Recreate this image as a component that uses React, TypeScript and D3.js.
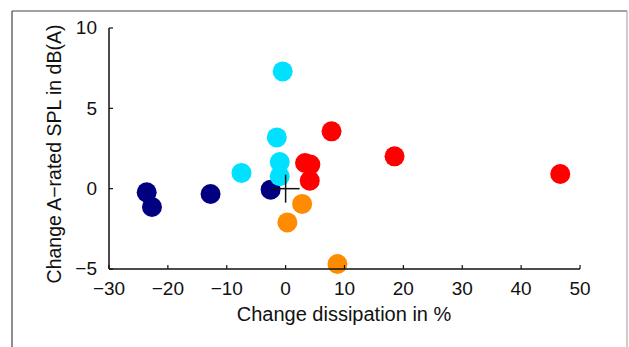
import * as d3 from 'd3';

// dissipation change (%) vs A-weighted SPL change (dB)
const navyX = [-23.6, -22.7, -12.75, -2.55];
const navyY = [-0.23, -1.14, -0.33, -0.06];
const orangeX = [2.8, 0.3, 8.8];
const orangeY = [-0.95, -2.1, -4.69];
const redX = [7.8, 18.5, 46.65, 3.3, 4.2, 4.1];
const redY = [3.57, 2.01, 0.91, 1.6, 1.5, 0.5];
const cyanX = [-0.5, -1.5, -1.0, -1.0, -7.5];
const cyanY = [7.3, 3.19, 1.66, 0.77, 0.98];

const xTicks = [-30, -20, -10, 0, 10, 20, 30, 40, 50];
const yTicks = [-5, 0, 5, 10];

const groups = [
  { xs: navyX, ys: navyY, color: '#000080' },
  { xs: orangeX, ys: orangeY, color: '#ff8c00' },
  { xs: redX, ys: redY, color: '#ff0000' },
  { xs: cyanX, ys: cyanY, color: '#00e1ff' },
];

const W = 629;
const H = 347;
const font = '"Liberation Sans", Arial, Helvetica, sans-serif';

export default function App() {
  const x = d3.scaleLinear().domain([-30, 50]).range([109, 580]);
  const y = d3.scaleLinear().domain([-5, 10]).range([269, 28]);
  const ink = '#111';

  return (
    <div style={{ position: 'fixed', left: 0, top: 0, width: W, height: H, background: '#fff' }}>
      <svg width={W} height={H} style={{ display: 'block' }}>
        {/* outer frame */}
        <line x1={12} y1={11} x2={12} y2={H} stroke="#444" strokeWidth={1.2} />
        <line x1={12} y1={11} x2={627} y2={11} stroke="#444" strokeWidth={1.2} />
        <line x1={627} y1={11} x2={627} y2={H} stroke="#aaa" strokeWidth={1.2} />

        {/* points */}
        {groups.map((g, gi) =>
          g.xs.map((v, i) => (
            <circle key={`${gi}-${i}`} cx={x(v)} cy={y(g.ys[i])} r={10} fill={g.color} />
          ))
        )}

        {/* origin cross */}
        <line x1={x(0) - 14} x2={x(0) + 14} y1={y(0)} y2={y(0)} stroke={ink} strokeWidth={1.5} />
        <line x1={x(0)} x2={x(0)} y1={y(0) - 14} y2={y(0) + 14} stroke={ink} strokeWidth={1.5} />

        {/* axes */}
        <line x1={x(-30)} x2={x(-30)} y1={y(10)} y2={y(-5)} stroke={ink} strokeWidth={1.5} />
        <line x1={x(-30)} x2={x(50)} y1={y(-5)} y2={y(-5)} stroke={ink} strokeWidth={1.5} />
        {xTicks.map((t) => (
          <g key={`xt${t}`}>
            <line x1={x(t)} x2={x(t)} y1={y(-5)} y2={y(-5) - 4} stroke={ink} strokeWidth={1.2} />
            <text x={x(t)} y={295} textAnchor="middle" fontFamily={font} fontSize={19} fill={ink}>
              {t < 0 ? `\u2212${-t}` : t}
            </text>
          </g>
        ))}
        {yTicks.map((t) => (
          <g key={`yt${t}`}>
            <line x1={x(-30)} x2={x(-30) + 4} y1={y(t)} y2={y(t)} stroke={ink} strokeWidth={1.2} />
            <text x={97} y={y(t)} dy="0.33em" textAnchor="end" fontFamily={font} fontSize={19} fill={ink}>
              {t < 0 ? `\u2212${-t}` : t}
            </text>
          </g>
        ))}

        <text x={344} y={321} textAnchor="middle" fontFamily={font} fontSize={20} fill={ink}>
          Change dissipation in %
        </text>
        <text
          transform={`translate(61,154) rotate(-90)`}
          textAnchor="middle"
          fontFamily={font}
          fontSize={19.5}
          fill={ink}
        >
          Change A{'\u2212'}rated SPL in dB(A)
        </text>
      </svg>
    </div>
  );
}
